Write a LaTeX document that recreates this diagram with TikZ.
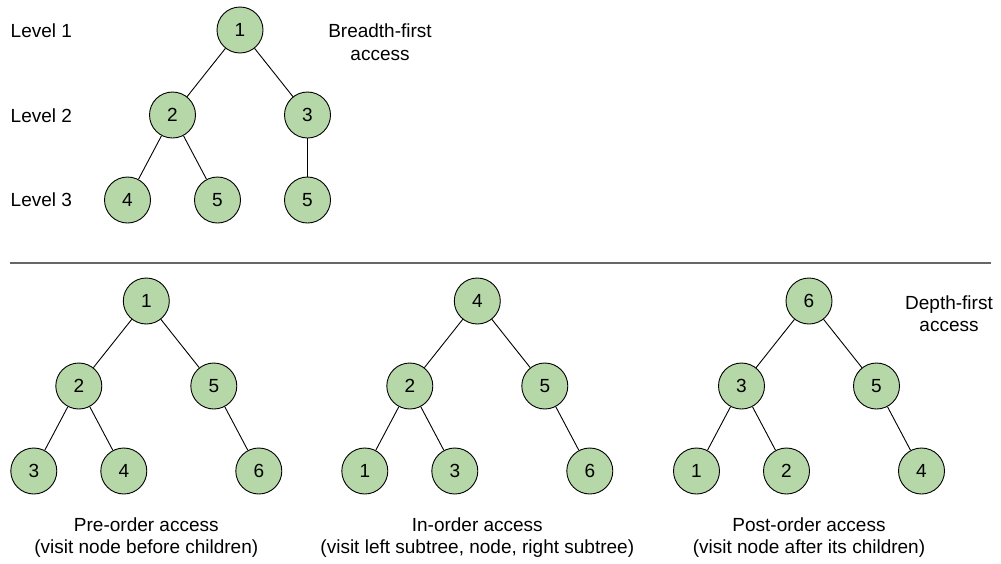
\documentclass[tikz,border=0pt]{standalone}
\usepackage{fontspec}
\setmainfont{Liberation Sans}
\definecolor{nodegreen}{HTML}{B6D7A8}
\definecolor{rulegray}{HTML}{666666}
\begin{document}
\begin{tikzpicture}[x=1pt,y=-1pt,
  tnode/.style={circle,draw=black,line width=0.9pt,fill=nodegreen,minimum size=46pt,inner sep=0pt,font=\fontsize{19}{22}\selectfont},
  edge/.style={draw=black,line width=0.9pt},
  lbl/.style={inner sep=0pt,font=\fontsize{19}{22}\selectfont}]
\useasboundingbox (0,0) rectangle (1001,563);
% ---------- breadth-first tree ----------
\node[tnode] (b1) at (240,30) {1};
\node[tnode] (b2) at (172.5,115) {2};
\node[tnode] (b3) at (307.5,115) {3};
\node[tnode] (b4) at (127.5,200) {4};
\node[tnode] (b5) at (217.5,200) {5};
\node[tnode] (b6) at (307.5,200) {5};
\draw[edge] (b1) -- (b2);
\draw[edge] (b1) -- (b3);
\draw[edge] (b2) -- (b4);
\draw[edge] (b2) -- (b5);
\draw[edge] (b3) -- (b6);
\node[lbl,anchor=base west] (lv1) at (10.5,37) {Level 1};
\node[lbl,anchor=base west] (lv2) at (10.5,122) {Level 2};
\node[lbl,anchor=base west] (lv3) at (10.5,206) {Level 3};
\node[lbl,anchor=base] (bf1) at (380,37.5) {Breadth-first};
\node[lbl,anchor=base] (bf2) at (380,60.5) {access};
% ---------- separator ----------
\coordinate (sepL) at (10,262.7);
\coordinate (sepR) at (991,262.7);
\draw[rulegray,line width=1.6pt] (sepL) -- (sepR);
% ---------- pre-order ----------
\node[tnode] (p1) at (146.3,301) {1};
\node[tnode] (p2) at (78.8,386) {2};
\node[tnode] (p5) at (213.8,386) {5};
\node[tnode] (p3) at (33.8,471) {3};
\node[tnode] (p4) at (123.8,471) {4};
\node[tnode] (p6) at (258.8,471) {6};
\draw[edge] (p1) -- (p2);
\draw[edge] (p1) -- (p5);
\draw[edge] (p2) -- (p3);
\draw[edge] (p2) -- (p4);
\draw[edge] (p5) -- (p6);
% ---------- in-order ----------
\node[tnode] (i4) at (477.3,301) {4};
\node[tnode] (i2) at (409.8,386) {2};
\node[tnode] (i5) at (544.8,386) {5};
\node[tnode] (i1) at (364.8,471) {1};
\node[tnode] (i3) at (454.8,471) {3};
\node[tnode] (i6) at (589.8,471) {6};
\draw[edge] (i4) -- (i2);
\draw[edge] (i4) -- (i5);
\draw[edge] (i2) -- (i1);
\draw[edge] (i2) -- (i3);
\draw[edge] (i5) -- (i6);
% ---------- post-order ----------
\node[tnode] (q6) at (809,301) {6};
\node[tnode] (q3) at (741.5,386) {3};
\node[tnode] (q5) at (876.5,386) {5};
\node[tnode] (q1) at (696.5,471) {1};
\node[tnode] (q2) at (786.5,471) {2};
\node[tnode] (q4) at (921.5,471) {4};
\draw[edge] (q6) -- (q3);
\draw[edge] (q6) -- (q5);
\draw[edge] (q3) -- (q1);
\draw[edge] (q3) -- (q2);
\draw[edge] (q5) -- (q4);
\node[lbl,anchor=base] (df1) at (949,309) {Depth-first};
\node[lbl,anchor=base] (df2) at (949,331) {access};
% ---------- captions ----------
\node[lbl,anchor=base] (c1a) at (146.3,531.5) {Pre-order access};
\node[lbl,anchor=base] (c1b) at (146.3,553) {(visit node before children)};
\node[lbl,anchor=base] (c2a) at (477.3,531.5) {In-order access};
\node[lbl,anchor=base] (c2b) at (477.3,553) {(visit left subtree, node, right subtree)};
\node[lbl,anchor=base] (c3a) at (809,531.5) {Post-order access};
\node[lbl,anchor=base] (c3b) at (809,553) {(visit node after its children)};
\end{tikzpicture}
\end{document}
